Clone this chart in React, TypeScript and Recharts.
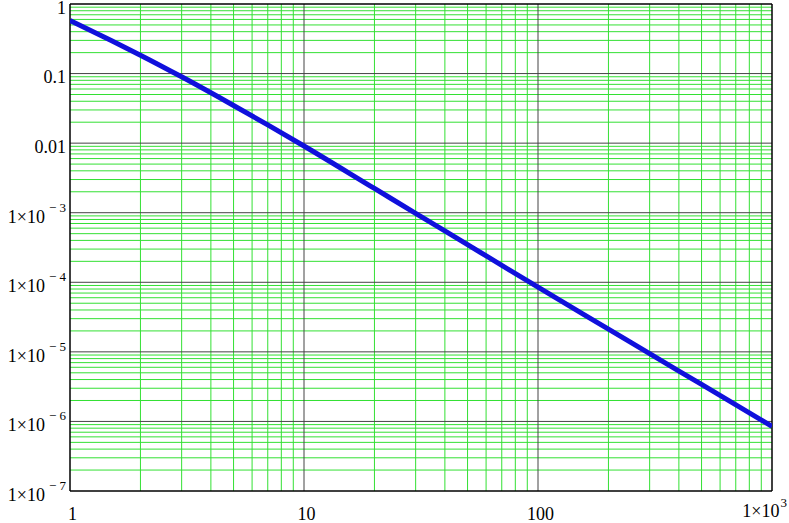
import { LineChart, Line, XAxis, YAxis, ReferenceLine } from 'recharts'

// values (log-log plot)
const xValues = [1, 1.5, 2, 3, 5, 7, 10, 20, 30, 50, 100, 200, 300, 500, 1000]
const yValues = [
    0.58, 0.299, 0.184, 0.0898, 0.0348, 0.0183, 0.0091, 0.00223, 9.8e-4, 3.47e-4,
    8.5e-5, 2.12e-5, 9.4e-6, 3.4e-6, 8.5e-7,
]

const xTicks = [1, 10, 100, 1000]
const yTicks = [1, 0.1, 0.01, 1e-3, 1e-4, 1e-5, 1e-6, 1e-7]
const minorSteps = [2, 3, 4, 5, 6, 7, 8, 9]

const data = xValues.map((x, i) => ({ x, y: yValues[i] }))

const xMinor = xTicks.slice(0, -1).flatMap((d) => minorSteps.map((k) => d * k))
const yMinor = yTicks.slice(1).flatMap((d) => minorSteps.map((k) => d * k))

const FONT = 'Liberation Serif, Times New Roman, serif'

const YTick = ({ y, payload }: any) => {
    const v = payload.value
    const e = Math.round(Math.log10(v))
    if (e >= -2) {
        return (
            <text x={66} y={y + 9.5} textAnchor="end" fontFamily={FONT} fontSize={18} fill="#000">
                {String(v)}
            </text>
        )
    }
    return (
        <text x={66} y={y + 10} textAnchor="end" fontFamily={FONT} fontSize={18} fill="#000">
            <tspan>1×10</tspan>
            <tspan dx={4} dy={-11} fontSize={13}>{'\u2212 ' + -e}</tspan>
        </text>
    )
}

const XTick = ({ x, payload }: any) => {
    const v = payload.value
    if (v === 1000) {
        return (
            <text x={x + 15} y={517} textAnchor="end" fontFamily={FONT} fontSize={18} fill="#000">
                <tspan>1×10</tspan>
                <tspan dx={1} dy={-10} fontSize={13}>3</tspan>
            </text>
        )
    }
    return (
        <text x={x + 2.5} y={520} textAnchor="middle" fontFamily={FONT} fontSize={18} fill="#000">
            {String(v)}
        </text>
    )
}

export default function App() {
    return (
        <div style={{ position: 'absolute', left: 0, top: 0, background: '#fff' }}>
            <LineChart
                width={789}
                height={523}
                data={data}
                margin={{ top: 4, right: 17, bottom: 0, left: 0 }}
            >
                <XAxis
                    dataKey="x"
                    type="number"
                    scale="log"
                    domain={[1, 1000]}
                    ticks={xTicks}
                    interval={0}
                    allowDataOverflow
                    axisLine={false}
                    tickLine={false}
                    height={32}
                    tick={<XTick />}
                />
                <YAxis
                    dataKey="y"
                    type="number"
                    scale="log"
                    domain={[1e-7, 1]}
                    ticks={yTicks}
                    interval={0}
                    allowDataOverflow
                    axisLine={false}
                    tickLine={false}
                    width={70}
                    tick={<YTick />}
                />
                {xMinor.map((v) => (
                    <ReferenceLine key={'xm' + v} x={v} stroke="#33e033" strokeWidth={1} />
                ))}
                {yMinor.map((v) => (
                    <ReferenceLine key={'ym' + v} y={v} stroke="#33e033" strokeWidth={1} />
                ))}
                {xTicks.slice(1, -1).map((v) => (
                    <ReferenceLine key={'xM' + v} x={v} stroke="#444" strokeWidth={1} />
                ))}
                {yTicks.slice(1, -1).map((v) => (
                    <ReferenceLine key={'yM' + v} y={v} stroke="#444" strokeWidth={1} />
                ))}
                <ReferenceLine x={1} stroke="#000" strokeWidth={1.5} />
                <ReferenceLine x={1000} stroke="#000" strokeWidth={1.5} />
                <ReferenceLine y={1} stroke="#000" strokeWidth={1.5} />
                <ReferenceLine y={1e-7} stroke="#000" strokeWidth={1.5} />
                <Line
                    dataKey="y"
                    type="monotone"
                    stroke="#1010dc"
                    strokeWidth={5}
                    dot={false}
                    isAnimationActive={false}
                />
            </LineChart>
        </div>
    )
}
